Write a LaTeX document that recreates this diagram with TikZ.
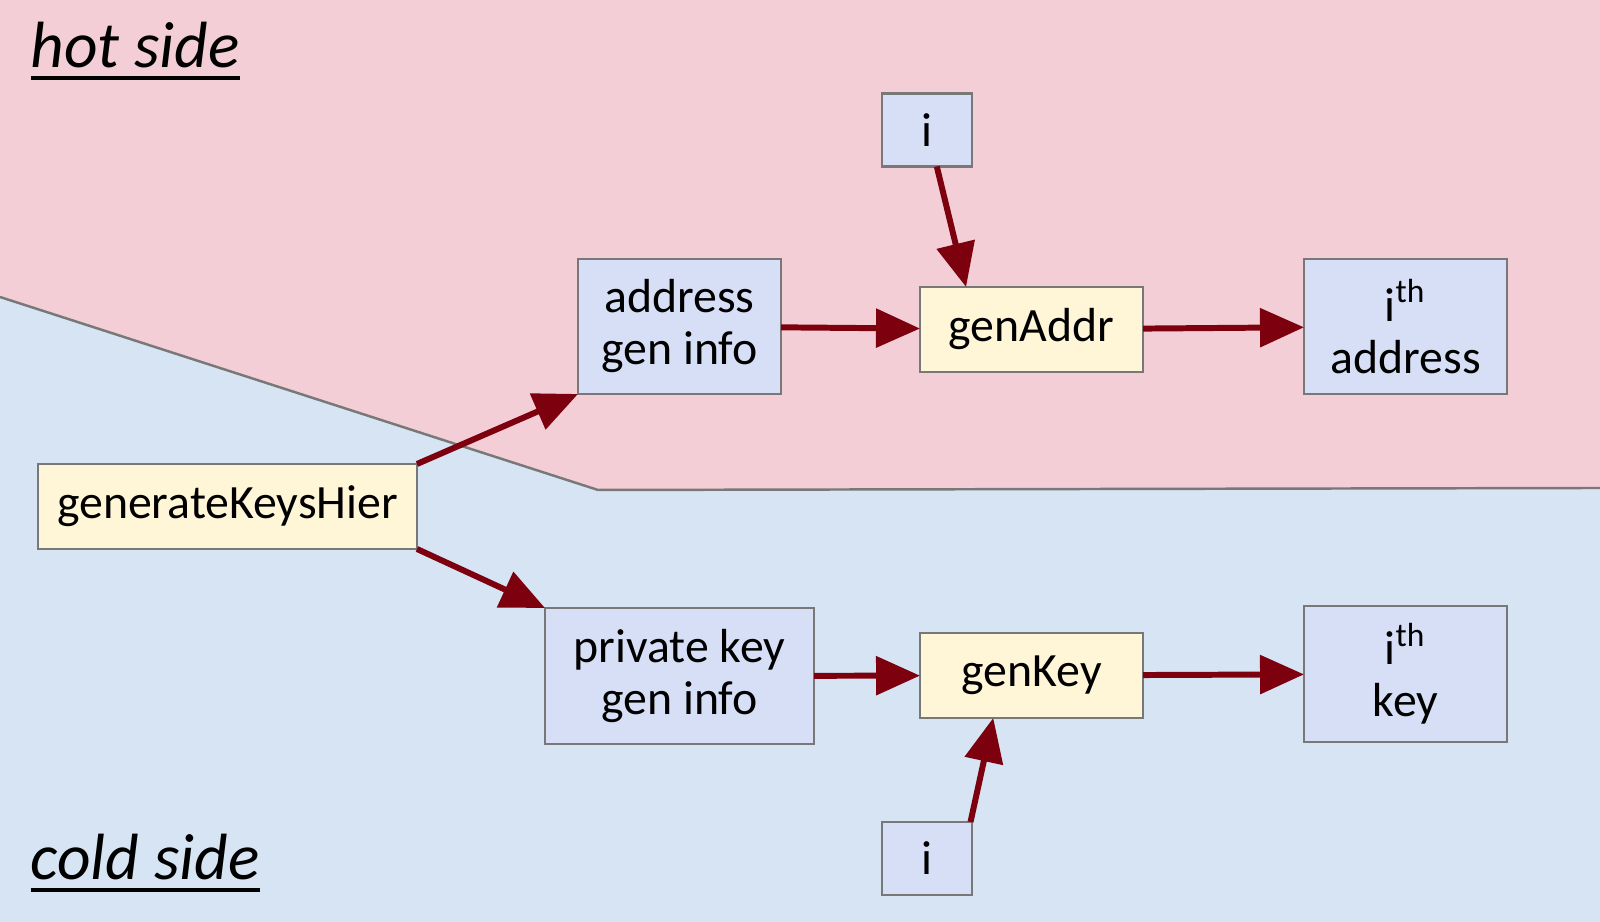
\documentclass[tikz,border=0pt]{standalone}
\usepackage{fontspec}
\setmainfont{Carlito}
\usepackage{tikz}
\definecolor{hotPink}{RGB}{244, 206, 214}
\definecolor{coldBlue}{RGB}{214, 228, 243}
\definecolor{infoBlue}{RGB}{214, 223, 245}
\definecolor{funcYellow}{RGB}{255, 245, 215}
\definecolor{arrowRed}{RGB}{125, 0, 14}
\definecolor{edgeGray}{RGB}{120, 120, 120}
\usetikzlibrary{arrows.meta, positioning, calc}
\newcommand{\sideul}[1]{\vtop{\hbox{#1}\kern2.2pt\hrule height 1.1pt}}

\begin{document}
\begin{tikzpicture}[
    infobox/.style={rectangle, draw=edgeGray, line width=0.7pt, fill=infoBlue, minimum width=2.03cm, minimum height=1.35cm, align=center, inner sep=0pt, outer sep=0pt, font=\fontsize{13.6}{14.8}\selectfont},
    funcbox/.style={rectangle, draw=edgeGray, line width=0.7pt, fill=funcYellow, minimum width=2.23cm, minimum height=0.85cm, align=center, inner sep=0pt, outer sep=0pt, font=\fontsize{13.6}{14.8}\selectfont},
    idxbox/.style={infobox, minimum width=0.9cm, minimum height=0.73cm},
    arrow/.style={-{Triangle[length=0.44cm, width=0.38cm]}, line width=1.7pt, arrowRed},
    sidelabel/.style={anchor=base west, inner sep=0pt, font=\fontsize{18.6}{20}\selectfont\itshape}
]
    % the two sides
    \useasboundingbox (0,0) rectangle (16,9.22);
    \fill[coldBlue] (0,0) rectangle (16,9.22);
    \fill[hotPink] (0,9.22) -- (0,6.25) -- (5.98,4.32) -- (16,4.34) -- (16,9.22) -- cycle;
    \draw[edgeGray, line width=0.7pt] (0,6.25) -- (5.98,4.32) -- (16,4.34);

    \node[sidelabel] (hot) at (0.30,8.54) {\sideul{hot side}};
    \node[sidelabel] (cold) at (0.30,0.42) {\sideul{cold side}};

    % boxes
    \node[funcbox, minimum width=3.79cm] (gen) at (2.275,4.155) {generateKeysHier};
    \node[infobox] (addrInfo) at (6.795,5.955) {address\\gen info};
    \node[funcbox] (genAddr) at (10.315,5.925) {genAddr};
    \node[infobox] (ithAddr) at (14.055,5.955) {i\textsuperscript{th}\\address};
    \node[idxbox] (iTop) at (9.27,7.92) {i};
    \node[infobox, minimum width=2.69cm, minimum height=1.36cm] (keyInfo) at (6.795,2.46) {private key\\gen info};
    \node[funcbox] (genKey) at (10.315,2.465) {genKey};
    \node[infobox, minimum height=1.36cm] (ithKey) at (14.055,2.48) {i\textsuperscript{th}\\key};
    \node[idxbox] (iBot) at (9.27,0.635) {i};

    % arrows
    \draw[arrow] (gen.north east) -- (addrInfo.south west);
    \draw[arrow] (gen.south east) -- (keyInfo.north west);
    \draw[arrow] (addrInfo) -- (genAddr);
    \draw[arrow] (genAddr) -- (ithAddr);
    \draw[arrow] (iTop.285) -- (genAddr.147);
    \draw[arrow] (keyInfo) -- (genKey);
    \draw[arrow] (genKey) -- (ithKey);
    \draw[arrow] (iBot.40) -- (genKey.228);
\end{tikzpicture}
\end{document}
